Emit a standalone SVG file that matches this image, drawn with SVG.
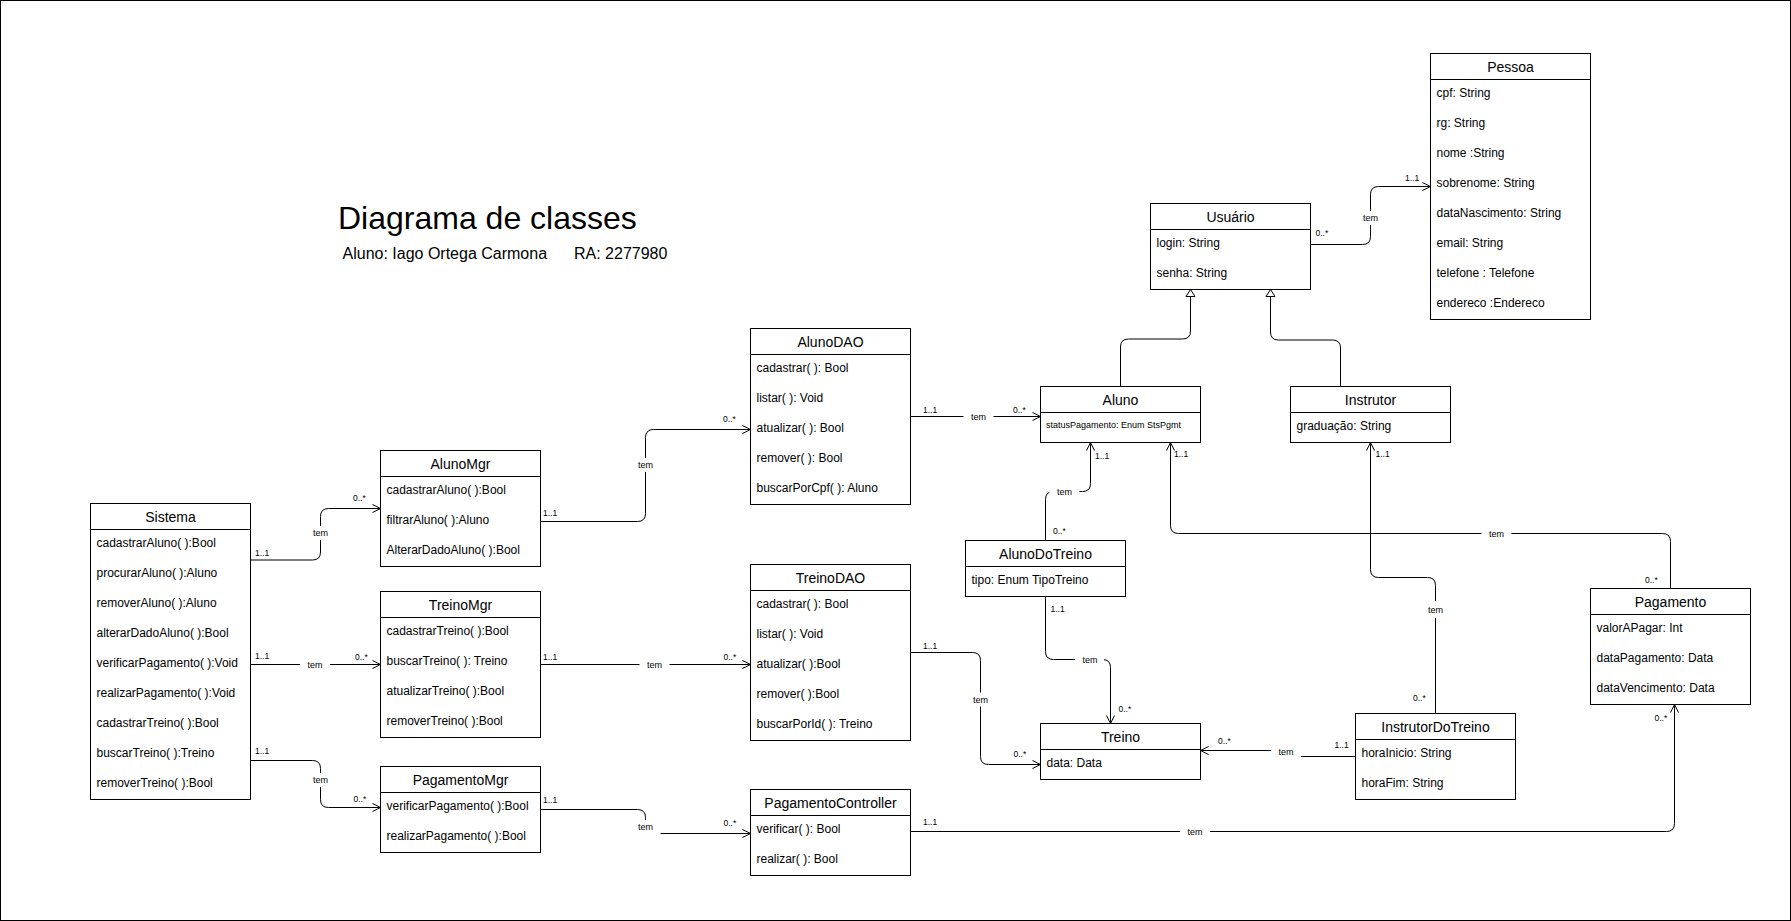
<svg xmlns="http://www.w3.org/2000/svg" width="1791" height="921" viewBox="0 0 1791 921">
<style>
.box{fill:#fff;stroke:#000;stroke-width:1}
.sep{stroke:#000;stroke-width:1}
.hdr{font-family:"Liberation Sans",Arial,sans-serif;font-size:14px;text-anchor:middle;fill:#000}
.row{font-family:"Liberation Sans",Arial,sans-serif;font-size:12px;fill:#000}
.small{font-family:"Liberation Sans",Arial,sans-serif;font-size:9px;fill:#000}
.edge{fill:none;stroke:#000;stroke-width:1}
.assoc{marker-end:url(#open)}
.gen{marker-end:url(#tri)}
.lbl{font-family:"Liberation Sans",Arial,sans-serif;font-size:9px;text-anchor:middle;fill:#000}
.mult{font-family:"Liberation Sans",Arial,sans-serif;font-size:8.5px;fill:#000}
.bg{fill:#fff}
.title{font-family:"Liberation Sans",Arial,sans-serif;font-size:32px;fill:#000}
.sub{font-family:"Liberation Sans",Arial,sans-serif;font-size:16px;fill:#000}
</style>
<defs>
<marker id="open" markerUnits="userSpaceOnUse" markerWidth="12" markerHeight="12" refX="8" refY="4" orient="auto" overflow="visible">
<path d="M0,0 L8,4 L0,8" fill="none" stroke="#000" stroke-width="1"/>
</marker>
<marker id="tri" markerUnits="userSpaceOnUse" markerWidth="12" markerHeight="12" refX="7" refY="4.5" orient="auto" overflow="visible">
<path d="M0,0 L7,4.5 L0,9 Z" fill="#fff" stroke="#000" stroke-width="1"/>
</marker>
</defs>
<rect x="0" y="0" width="1791" height="921" fill="#fff"/>
<rect x="0.5" y="0.5" width="1790" height="920" fill="none" stroke="#000" stroke-width="1"/>

<g id="title">
<text class="title" x="338" y="229">Diagrama de classes</text>
<text class="sub" x="342.5" y="259">Aluno: Iago Ortega Carmona</text>
<text class="sub" x="574" y="259">RA: 2277980</text>
</g>

<g id="connectors">
<!-- Sistema -> AlunoMgr -->
<path class="edge assoc" d="M250.5,560 H312.5 Q320.5,560 320.5,552 V516.5 Q320.5,508.5 328.5,508.5 H380.5"/>
<rect class="bg" x="305.5" y="526" width="30" height="14"/>
<text class="lbl" x="320.5" y="536">tem</text>
<text class="mult" x="255" y="555.5">1..1</text>
<text class="mult" x="353" y="500.5">0..*</text>
<!-- Sistema -> TreinoMgr -->
<path class="edge assoc" d="M250.5,664.5 H380.5"/>
<rect class="bg" x="300" y="657.5" width="30" height="14"/>
<text class="lbl" x="315" y="667.5">tem</text>
<text class="mult" x="255" y="659">1..1</text>
<text class="mult" x="355" y="659.5">0..*</text>
<!-- Sistema -> PagamentoMgr -->
<path class="edge assoc" d="M250.5,760.5 H312.5 Q320.5,760.5 320.5,768.5 V799.5 Q320.5,807.5 328.5,807.5 H380.5"/>
<rect class="bg" x="305.5" y="773" width="30" height="14"/>
<text class="lbl" x="320.5" y="783">tem</text>
<text class="mult" x="255" y="754">1..1</text>
<text class="mult" x="353.5" y="802">0..*</text>
<!-- AlunoMgr -> AlunoDAO -->
<path class="edge assoc" d="M540.5,521.5 H637.5 Q645.5,521.5 645.5,513.5 V437.5 Q645.5,429.5 653.5,429.5 H750.5"/>
<rect class="bg" x="630.5" y="458" width="30" height="14"/>
<text class="lbl" x="645.5" y="468">tem</text>
<text class="mult" x="543" y="515.5">1..1</text>
<text class="mult" x="723" y="422">0..*</text>
<!-- AlunoDAO -> Aluno -->
<path class="edge assoc" d="M910.5,416.5 H1040.5"/>
<rect class="bg" x="963.5" y="409.5" width="30" height="14"/>
<text class="lbl" x="978.5" y="419.5">tem</text>
<text class="mult" x="923" y="413">1..1</text>
<text class="mult" x="1013" y="413">0..*</text>
<!-- TreinoMgr -> TreinoDAO -->
<path class="edge assoc" d="M540.5,664.5 H750.5"/>
<rect class="bg" x="639.5" y="657.5" width="30" height="14"/>
<text class="lbl" x="654.5" y="667.5">tem</text>
<text class="mult" x="543" y="659.5">1..1</text>
<text class="mult" x="723.5" y="659.5">0..*</text>
<!-- PagamentoMgr -> PagamentoController -->
<path class="edge assoc" d="M540.5,809.5 H637.5 Q645.5,809.5 645.5,817.5 V825.5 Q645.5,833.5 653.5,833.5 H750.5"/>
<rect class="bg" x="630.5" y="820" width="30" height="14.5"/>
<text class="lbl" x="645.5" y="830">tem</text>
<text class="mult" x="543" y="802.5">1..1</text>
<text class="mult" x="723.5" y="825.5">0..*</text>
<!-- TreinoDAO -> Treino -->
<path class="edge assoc" d="M910.5,652.5 H972.5 Q980.5,652.5 980.5,660.5 V756.5 Q980.5,764.5 988.5,764.5 H1040.5"/>
<rect class="bg" x="965.5" y="692.5" width="30" height="14"/>
<text class="lbl" x="980.5" y="702.5">tem</text>
<text class="mult" x="923" y="648.5">1..1</text>
<text class="mult" x="1013.5" y="756.5">0..*</text>
<!-- AlunoDoTreino -> Aluno -->
<path class="edge assoc" d="M1045.5,540.5 V499.5 Q1045.5,491.5 1053.5,491.5 H1082.5 Q1090.5,491.5 1090.5,483.5 V442.5"/>
<rect class="bg" x="1049.5" y="484.5" width="30" height="14"/>
<text class="lbl" x="1064.5" y="494.5">tem</text>
<text class="mult" x="1053" y="534">0..*</text>
<text class="mult" x="1095" y="458.5">1..1</text>
<!-- Pagamento -> Aluno -->
<path class="edge assoc" d="M1670.5,588.5 V541.5 Q1670.5,533.5 1662.5,533.5 H1178.5 Q1170.5,533.5 1170.5,525.5 V442.5"/>
<rect class="bg" x="1481.5" y="526.5" width="30" height="14"/>
<text class="lbl" x="1496.5" y="536.5">tem</text>
<text class="mult" x="1174" y="456.5">1..1</text>
<text class="mult" x="1645" y="583">0..*</text>
<!-- InstrutorDoTreino -> Instrutor -->
<path class="edge assoc" d="M1435.5,713.5 V585.5 Q1435.5,577.5 1427.5,577.5 H1378.5 Q1370.5,577.5 1370.5,569.5 V442.5"/>
<rect class="bg" x="1420.5" y="601" width="30" height="17"/>
<text class="lbl" x="1435.5" y="612.5">tem</text>
<text class="mult" x="1375.5" y="456.5">1..1</text>
<text class="mult" x="1413" y="701">0..*</text>
<!-- AlunoDoTreino -> Treino -->
<path class="edge assoc" d="M1045.5,596.5 V651.5 Q1045.5,659.5 1053.5,659.5 H1102.5 Q1110.5,659.5 1110.5,667.5 V723.5"/>
<rect class="bg" x="1075" y="652.5" width="29" height="14"/>
<text class="lbl" x="1090" y="662.5">tem</text>
<text class="mult" x="1050.5" y="611.5">1..1</text>
<text class="mult" x="1118.5" y="711.5">0..*</text>
<!-- InstrutorDoTreino -> Treino -->
<path class="edge assoc" d="M1355.5,756.5 H1290 Q1286,756.5 1286,753.5 Q1286,750.5 1282,750.5 H1200.5"/>
<rect class="bg" x="1271" y="745" width="30" height="14"/>
<text class="lbl" x="1286" y="755">tem</text>
<text class="mult" x="1334.5" y="748">1..1</text>
<text class="mult" x="1218" y="744">0..*</text>
<!-- PagamentoController -> Pagamento -->
<path class="edge assoc" d="M910.5,831.5 H1666.5 Q1674.5,831.5 1674.5,823.5 V704.5"/>
<rect class="bg" x="1180" y="824.5" width="30" height="14"/>
<text class="lbl" x="1195" y="834.5">tem</text>
<text class="mult" x="923" y="825">1..1</text>
<text class="mult" x="1654.5" y="721">0..*</text>
<!-- Usuario -> Pessoa -->
<path class="edge assoc" d="M1310.5,244.5 H1362.5 Q1370.5,244.5 1370.5,236.5 V194.5 Q1370.5,186.5 1378.5,186.5 H1430.5"/>
<rect class="bg" x="1355.5" y="211" width="30" height="14"/>
<text class="lbl" x="1370.5" y="221">tem</text>
<text class="mult" x="1315.5" y="236">0..*</text>
<text class="mult" x="1405" y="181">1..1</text>
<!-- Aluno -> Usuario (generalization) -->
<path class="edge gen" d="M1120.5,386.5 V347 Q1120.5,339 1128.5,339 H1182.5 Q1190.5,339 1190.5,331 V289.5"/>
<!-- Instrutor -> Usuario (generalization) -->
<path class="edge gen" d="M1340.5,386.5 V348 Q1340.5,340 1332.5,340 H1278.5 Q1270.5,340 1270.5,332 V289.5"/>
</g>

<g id="Sistema">
<rect class="box" x="90.5" y="503.5" width="160" height="296"/>
<line class="sep" x1="90.5" y1="529.5" x2="250.5" y2="529.5"/>
<text class="hdr" x="170.5" y="521.5">Sistema</text>
<text class="row" x="96.5" y="546.5">cadastrarAluno( ):Bool</text>
<text class="row" x="96.5" y="576.5">procurarAluno( ):Aluno</text>
<text class="row" x="96.5" y="606.5">removerAluno( ):Aluno</text>
<text class="row" x="96.5" y="636.5">alterarDadoAluno( ):Bool</text>
<text class="row" x="96.5" y="666.5">verificarPagamento( ):Void</text>
<text class="row" x="96.5" y="696.5">realizarPagamento( ):Void</text>
<text class="row" x="96.5" y="726.5">cadastrarTreino( ):Bool</text>
<text class="row" x="96.5" y="756.5">buscarTreino( ):Treino</text>
<text class="row" x="96.5" y="786.5">removerTreino( ):Bool</text>
</g>

<g id="AlunoMgr">
<rect class="box" x="380.5" y="450.5" width="160" height="116"/>
<line class="sep" x1="380.5" y1="476.5" x2="540.5" y2="476.5"/>
<text class="hdr" x="460.5" y="468.5">AlunoMgr</text>
<text class="row" x="386.5" y="493.5">cadastrarAluno( ):Bool</text>
<text class="row" x="386.5" y="523.5">filtrarAluno( ):Aluno</text>
<text class="row" x="386.5" y="553.5">AlterarDadoAluno( ):Bool</text>
</g>

<g id="TreinoMgr">
<rect class="box" x="380.5" y="591.5" width="160" height="146"/>
<line class="sep" x1="380.5" y1="617.5" x2="540.5" y2="617.5"/>
<text class="hdr" x="460.5" y="609.5">TreinoMgr</text>
<text class="row" x="386.5" y="634.5">cadastrarTreino( ):Bool</text>
<text class="row" x="386.5" y="664.5">buscarTreino( ): Treino</text>
<text class="row" x="386.5" y="694.5">atualizarTreino( ):Bool</text>
<text class="row" x="386.5" y="724.5">removerTreino( ):Bool</text>
</g>

<g id="PagamentoMgr">
<rect class="box" x="380.5" y="766.5" width="160" height="86"/>
<line class="sep" x1="380.5" y1="792.5" x2="540.5" y2="792.5"/>
<text class="hdr" x="460.5" y="784.5">PagamentoMgr</text>
<text class="row" x="386.5" y="809.5">verificarPagamento( ):Bool</text>
<text class="row" x="386.5" y="839.5">realizarPagamento( ):Bool</text>
</g>

<g id="AlunoDAO">
<rect class="box" x="750.5" y="328.5" width="160" height="176"/>
<line class="sep" x1="750.5" y1="354.5" x2="910.5" y2="354.5"/>
<text class="hdr" x="830.5" y="346.5">AlunoDAO</text>
<text class="row" x="756.5" y="371.5">cadastrar( ): Bool</text>
<text class="row" x="756.5" y="401.5">listar( ): Void</text>
<text class="row" x="756.5" y="431.5">atualizar( ): Bool</text>
<text class="row" x="756.5" y="461.5">remover( ): Bool</text>
<text class="row" x="756.5" y="491.5">buscarPorCpf( ): Aluno</text>
</g>

<g id="TreinoDAO">
<rect class="box" x="750.5" y="564.5" width="160" height="176"/>
<line class="sep" x1="750.5" y1="590.5" x2="910.5" y2="590.5"/>
<text class="hdr" x="830.5" y="582.5">TreinoDAO</text>
<text class="row" x="756.5" y="607.5">cadastrar( ): Bool</text>
<text class="row" x="756.5" y="637.5">listar( ): Void</text>
<text class="row" x="756.5" y="667.5">atualizar( ):Bool</text>
<text class="row" x="756.5" y="697.5">remover( ):Bool</text>
<text class="row" x="756.5" y="727.5">buscarPorId( ): Treino</text>
</g>

<g id="PagamentoController">
<rect class="box" x="750.5" y="789.5" width="160" height="86"/>
<line class="sep" x1="750.5" y1="815.5" x2="910.5" y2="815.5"/>
<text class="hdr" x="830.5" y="807.5">PagamentoController</text>
<text class="row" x="756.5" y="832.5">verificar( ): Bool</text>
<text class="row" x="756.5" y="862.5">realizar( ): Bool</text>
</g>

<g id="Usuario">
<rect class="box" x="1150.5" y="203.5" width="160" height="86"/>
<line class="sep" x1="1150.5" y1="229.5" x2="1310.5" y2="229.5"/>
<text class="hdr" x="1230.5" y="221.5">Usuário</text>
<text class="row" x="1156.5" y="246.5">login: String</text>
<text class="row" x="1156.5" y="276.5">senha: String</text>
</g>

<g id="Pessoa">
<rect class="box" x="1430.5" y="53.5" width="160" height="266"/>
<line class="sep" x1="1430.5" y1="79.5" x2="1590.5" y2="79.5"/>
<text class="hdr" x="1510.5" y="71.5">Pessoa</text>
<text class="row" x="1436.5" y="96.5">cpf: String</text>
<text class="row" x="1436.5" y="126.5">rg: String</text>
<text class="row" x="1436.5" y="156.5">nome :String</text>
<text class="row" x="1436.5" y="186.5">sobrenome: String</text>
<text class="row" x="1436.5" y="216.5">dataNascimento: String</text>
<text class="row" x="1436.5" y="246.5">email: String</text>
<text class="row" x="1436.5" y="276.5">telefone : Telefone</text>
<text class="row" x="1436.5" y="306.5">endereco :Endereco</text>
</g>

<g id="Aluno">
<rect class="box" x="1040.5" y="386.5" width="160" height="56"/>
<line class="sep" x1="1040.5" y1="412.5" x2="1200.5" y2="412.5"/>
<text class="hdr" x="1120.5" y="404.5">Aluno</text>
<text class="small" x="1046" y="427.5">statusPagamento: Enum StsPgmt</text>
</g>

<g id="Instrutor">
<rect class="box" x="1290.5" y="386.5" width="160" height="56"/>
<line class="sep" x1="1290.5" y1="412.5" x2="1450.5" y2="412.5"/>
<text class="hdr" x="1370.5" y="404.5">Instrutor</text>
<text class="row" x="1296.5" y="429.5">graduação: String</text>
</g>

<g id="AlunoDoTreino">
<rect class="box" x="965.5" y="540.5" width="160" height="56"/>
<line class="sep" x1="965.5" y1="566.5" x2="1125.5" y2="566.5"/>
<text class="hdr" x="1045.5" y="558.5">AlunoDoTreino</text>
<text class="row" x="971.5" y="583.5">tipo: Enum TipoTreino</text>
</g>

<g id="Treino">
<rect class="box" x="1040.5" y="723.5" width="160" height="56"/>
<line class="sep" x1="1040.5" y1="749.5" x2="1200.5" y2="749.5"/>
<text class="hdr" x="1120.5" y="741.5">Treino</text>
<text class="row" x="1046.5" y="766.5">data: Data</text>
</g>

<g id="InstrutorDoTreino">
<rect class="box" x="1355.5" y="713.5" width="160" height="86"/>
<line class="sep" x1="1355.5" y1="739.5" x2="1515.5" y2="739.5"/>
<text class="hdr" x="1435.5" y="731.5">InstrutorDoTreino</text>
<text class="row" x="1361.5" y="756.5">horaInicio: String</text>
<text class="row" x="1361.5" y="786.5">horaFim: String</text>
</g>

<g id="Pagamento">
<rect class="box" x="1590.5" y="588.5" width="160" height="116"/>
<line class="sep" x1="1590.5" y1="614.5" x2="1750.5" y2="614.5"/>
<text class="hdr" x="1670.5" y="606.5">Pagamento</text>
<text class="row" x="1596.5" y="631.5">valorAPagar: Int</text>
<text class="row" x="1596.5" y="661.5">dataPagamento: Data</text>
<text class="row" x="1596.5" y="691.5">dataVencimento: Data</text>
</g>
</svg>
